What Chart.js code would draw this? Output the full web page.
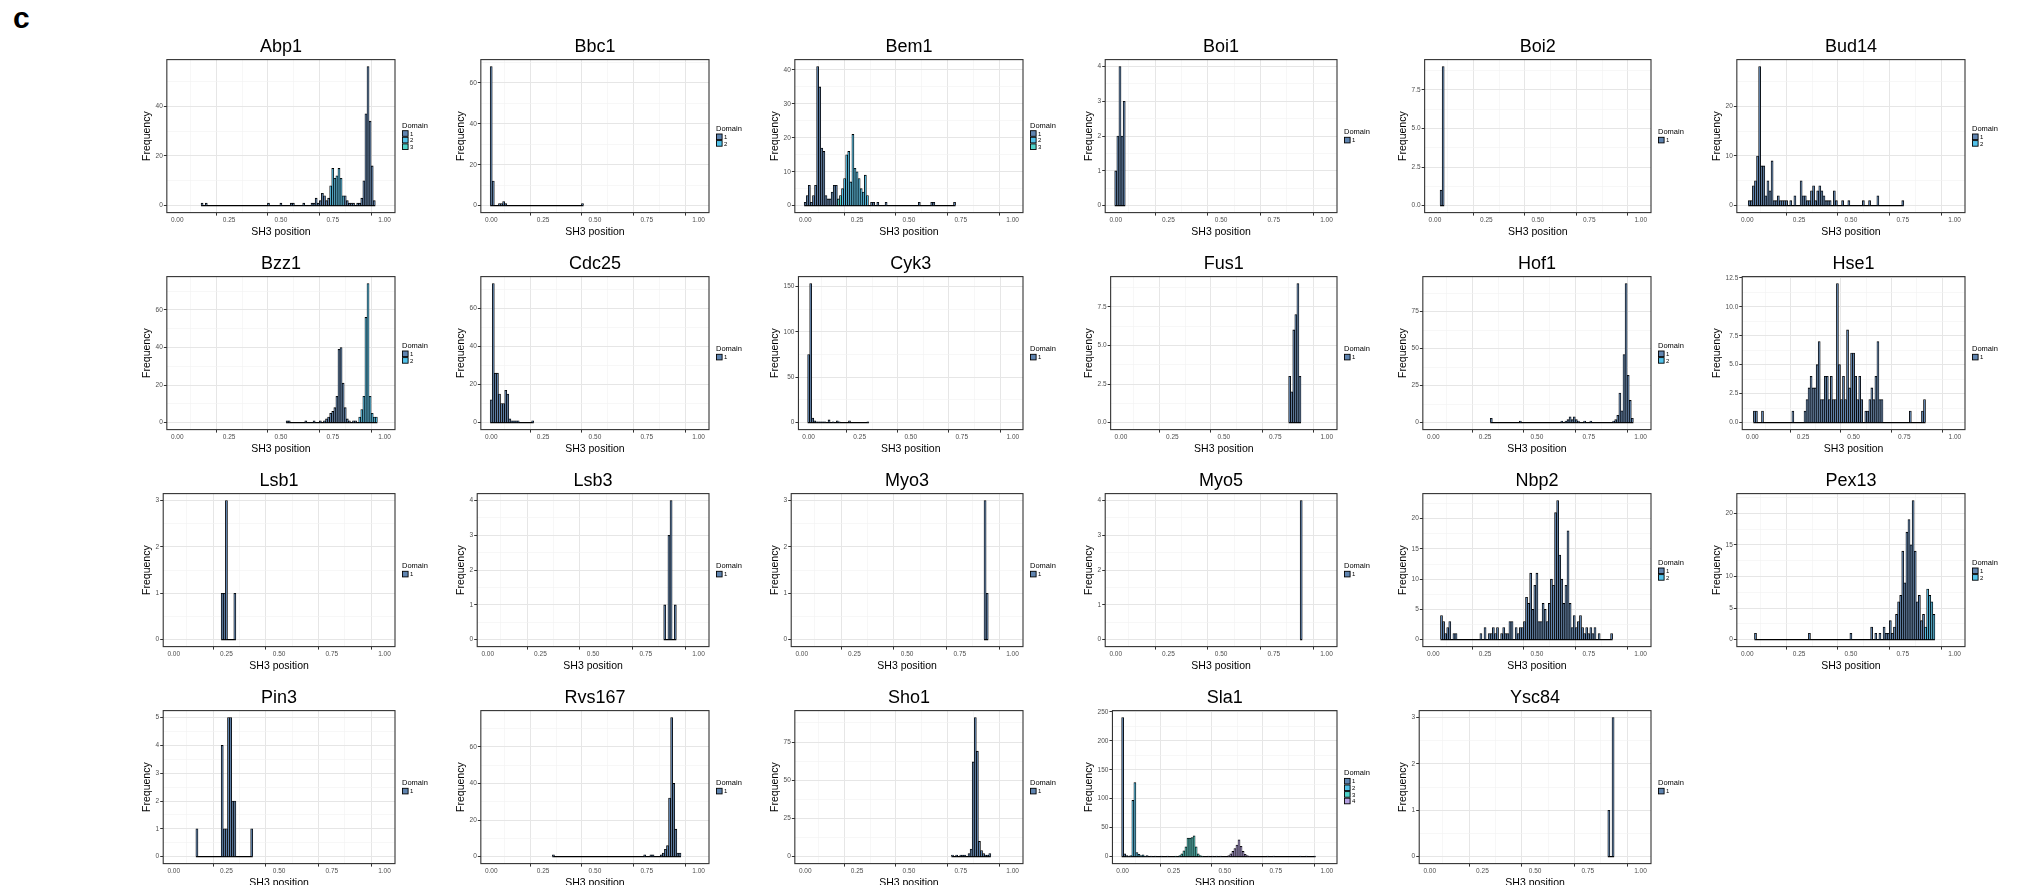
<!DOCTYPE html>
<html>
<head>
<meta charset="utf-8">
<script src="https://cdn.jsdelivr.net/npm/chart.js@4.4.1/dist/chart.umd.min.js"></script>
<style>
  body { margin: 0; background: #fff; width: 2017px; height: 885px; overflow: hidden; position: relative; }
  canvas { position: absolute; }
  #tag { position: absolute; left: 13px; top: 3px; font: bold 30px/30px "Liberation Sans", Arial, sans-serif; color: #000; }
</style>
</head>
<body>
<div id="tag">c</div>
<script>
const FONT = '"Liberation Sans", Arial, Helvetica, sans-serif';
Chart.defaults.font.family = FONT;

// histogram settings
const BIN_WIDTH = 0.01;
const xBreaks = [0, 0.25, 0.5, 0.75, 1];
const domainColours = ['#5f84b0', '#52c2ea', '#4fd2c9', '#b4a0e0'];

// panel list (row by row)
const panelNames = ['Abp1', 'Bbc1', 'Bem1', 'Boi1', 'Boi2', 'Bud14',
                    'Bzz1', 'Cdc25', 'Cyk3', 'Fus1', 'Hof1', 'Hse1',
                    'Lsb1', 'Lsb3', 'Myo3', 'Myo5', 'Nbp2', 'Pex13',
                    'Pin3', 'Rvs167', 'Sho1', 'Sla1', 'Ysc84'];
const domainCounts = [3, 2, 3, 1, 1, 2, 2, 1, 1, 1, 2, 1, 1, 1, 1, 1, 2, 2, 1, 1, 1, 4, 1];
const yBreakSteps = [20, 20, 10, 1, 2.5, 10, 20, 20, 50, 2.5, 25, 2.5, 1, 1, 1, 1, 5, 5, 1, 20, 25, 50, 1];

// bins = bin centres with non-zero counts, freq = counts
const abp1Bins = [0.12, 0.14, 0.44, 0.50, 0.55, 0.56, 0.61, 0.65, 0.66, 0.67, 0.68, 0.69, 0.70, 0.71, 0.72, 0.73, 0.74, 0.75, 0.76, 0.77, 0.78, 0.79, 0.80, 0.81, 0.82, 0.83, 0.84, 0.85, 0.87, 0.88, 0.89, 0.90, 0.91, 0.92, 0.93, 0.94, 0.95];
const abp1Freq = [1, 1, 1, 1, 1, 1, 1, 1, 1, 3, 1, 2, 5, 4, 2, 3, 8, 15, 11, 12, 15, 11, 4, 4, 2, 1, 1, 1, 1, 1, 3, 10, 37, 56, 34, 16, 2];
const abp1Dom = [[0.74, 0.80, 2]];

const bbc1Bins = [0.00, 0.01, 0.04, 0.05, 0.06, 0.07, 0.44];
const bbc1Freq = [68, 12, 1, 1, 2, 1, 1];

const bem1Bins = [0.00, 0.01, 0.02, 0.03, 0.04, 0.05, 0.06, 0.07, 0.08, 0.09, 0.10, 0.11, 0.12, 0.13, 0.14, 0.15, 0.16, 0.17, 0.18, 0.19, 0.20, 0.21, 0.22, 0.23, 0.24, 0.25, 0.26, 0.27, 0.28, 0.29, 0.30, 0.32, 0.33, 0.35, 0.39, 0.55, 0.61, 0.62, 0.72];
const bem1Freq = [1, 3, 6, 1, 3, 6, 41, 35, 17, 16, 3, 2, 2, 4, 6, 6, 2, 3, 5, 8, 15, 16, 7, 21, 11, 10, 8, 5, 4, 9, 3, 1, 1, 1, 1, 1, 1, 1, 1];
const bem1Dom = [[0.16, 0.17, 3], [0.18, 0.30, 2]];

const boi1Bins = [0.00, 0.01, 0.02, 0.03, 0.04];
const boi1Freq = [1, 2, 4, 2, 3];

const boi2Bins = [0.03, 0.04];
const boi2Freq = [1, 9];

const bud14Bins = [0.01, 0.02, 0.03, 0.04, 0.05, 0.06, 0.07, 0.08, 0.09, 0.10, 0.11, 0.12, 0.13, 0.14, 0.15, 0.16, 0.17, 0.18, 0.19, 0.21, 0.23, 0.26, 0.27, 0.28, 0.29, 0.30, 0.31, 0.32, 0.33, 0.34, 0.35, 0.36, 0.37, 0.38, 0.39, 0.40, 0.42, 0.43, 0.46, 0.49, 0.56, 0.59, 0.63, 0.75];
const bud14Freq = [1, 1, 4, 5, 10, 28, 8, 8, 2, 5, 3, 9, 1, 1, 2, 1, 1, 1, 1, 1, 2, 5, 2, 2, 1, 1, 3, 4, 1, 3, 4, 3, 2, 1, 1, 1, 3, 1, 1, 1, 1, 1, 2, 1];

const bzz1Bins = [0.53, 0.54, 0.62, 0.66, 0.69, 0.71, 0.72, 0.73, 0.74, 0.75, 0.76, 0.77, 0.78, 0.79, 0.80, 0.81, 0.82, 0.83, 0.85, 0.86, 0.88, 0.89, 0.90, 0.91, 0.92, 0.93, 0.94, 0.95, 0.96];
const bzz1Freq = [1, 1, 1, 1, 1, 1, 2, 3, 5, 6, 8, 14, 39, 40, 21, 8, 2, 1, 1, 1, 3, 7, 14, 56, 74, 14, 5, 3, 3];
const bzz1Dom = [[0.88, 0.96, 2]];

const cdc25Bins = [0.00, 0.01, 0.02, 0.03, 0.04, 0.05, 0.06, 0.07, 0.08, 0.09, 0.10, 0.11, 0.12, 0.13, 0.20];
const cdc25Freq = [12, 73, 26, 26, 15, 10, 10, 17, 15, 2, 1, 1, 1, 1, 1];

const cyk3Bins = [0.00, 0.01, 0.02, 0.03, 0.04, 0.05, 0.06, 0.07, 0.08, 0.10, 0.12, 0.14, 0.15, 0.20, 0.29];
const cyk3Freq = [75, 153, 5, 2, 1, 1, 1, 1, 1, 3, 1, 2, 1, 2, 1];

const fus1Bins = [0.82, 0.83, 0.84, 0.85, 0.86, 0.87];
const fus1Freq = [3, 2, 6, 7, 9, 3];

const hof1Bins = [0.28, 0.42, 0.62, 0.64, 0.65, 0.66, 0.67, 0.68, 0.69, 0.70, 0.73, 0.76, 0.87, 0.88, 0.89, 0.90, 0.91, 0.92, 0.93, 0.94, 0.95, 0.96];
const hof1Freq = [3, 1, 1, 1, 2, 4, 2, 4, 2, 1, 1, 1, 1, 2, 5, 20, 8, 46, 94, 32, 15, 3];

const hse1Bins = [0.01, 0.02, 0.05, 0.20, 0.26, 0.27, 0.28, 0.29, 0.30, 0.31, 0.32, 0.33, 0.34, 0.35, 0.36, 0.37, 0.38, 0.39, 0.40, 0.41, 0.42, 0.43, 0.44, 0.45, 0.46, 0.47, 0.48, 0.49, 0.50, 0.51, 0.52, 0.53, 0.54, 0.56, 0.57, 0.58, 0.59, 0.60, 0.61, 0.62, 0.63, 0.64, 0.78, 0.84, 0.85];
const hse1Freq = [1, 1, 1, 1, 1, 2, 3, 4, 3, 3, 5, 7, 2, 2, 4, 4, 2, 4, 2, 2, 12, 5, 2, 4, 2, 8, 3, 6, 6, 4, 2, 4, 2, 1, 1, 2, 3, 2, 4, 7, 2, 2, 1, 1, 2];

const lsb1Bins = [0.23, 0.24, 0.25, 0.29];
const lsb1Freq = [1, 1, 3, 1];

const lsb3Bins = [0.84, 0.86, 0.87, 0.89];
const lsb3Freq = [1, 3, 4, 1];

const myo3Bins = [0.87, 0.88];
const myo3Freq = [3, 1];

const myo5Bins = [0.88];
const myo5Freq = [4];

const nbp2Bins = [0.04, 0.05, 0.06, 0.07, 0.08, 0.10, 0.11, 0.23, 0.25, 0.27, 0.28, 0.29, 0.30, 0.31, 0.33, 0.34, 0.35, 0.36, 0.37, 0.38, 0.40, 0.41, 0.42, 0.43, 0.44, 0.45, 0.46, 0.47, 0.48, 0.49, 0.50, 0.51, 0.52, 0.53, 0.54, 0.55, 0.56, 0.57, 0.58, 0.59, 0.60, 0.61, 0.62, 0.63, 0.64, 0.65, 0.66, 0.67, 0.68, 0.69, 0.70, 0.71, 0.72, 0.73, 0.74, 0.75, 0.76, 0.77, 0.78, 0.80, 0.86];
const nbp2Freq = [4, 3, 1, 2, 3, 1, 1, 1, 2, 1, 1, 2, 1, 2, 1, 2, 1, 1, 3, 3, 2, 1, 2, 2, 3, 7, 6, 11, 5, 9, 11, 3, 3, 6, 5, 3, 6, 10, 9, 21, 23, 14, 10, 6, 9, 18, 6, 2, 4, 2, 3, 4, 2, 1, 2, 1, 2, 1, 2, 1, 1];

const pex13Bins = [0.04, 0.30, 0.50, 0.60, 0.62, 0.64, 0.66, 0.67, 0.68, 0.69, 0.70, 0.71, 0.72, 0.73, 0.74, 0.75, 0.76, 0.77, 0.78, 0.79, 0.80, 0.81, 0.82, 0.83, 0.84, 0.85, 0.86, 0.87, 0.88, 0.89, 0.90];
const pex13Freq = [1, 1, 1, 2, 1, 1, 2, 1, 1, 3, 1, 2, 4, 6, 7, 14, 9, 17, 19, 15, 22, 14, 6, 7, 3, 4, 2, 8, 7, 6, 4];
const pex13Dom = [[0.86, 0.90, 2]];

const pin3Bins = [0.11, 0.23, 0.24, 0.25, 0.26, 0.27, 0.28, 0.29, 0.37];
const pin3Freq = [1, 4, 1, 1, 5, 5, 2, 2, 1];

const rvs167Bins = [0.30, 0.74, 0.77, 0.78, 0.82, 0.83, 0.84, 0.85, 0.86, 0.87, 0.88, 0.89, 0.90, 0.91];
const rvs167Freq = [1, 1, 1, 1, 1, 2, 4, 6, 32, 76, 40, 15, 2, 2];

const sho1Bins = [0.71, 0.73, 0.75, 0.76, 0.77, 0.79, 0.80, 0.81, 0.82, 0.83, 0.84, 0.85, 0.86, 0.87, 0.88, 0.89];
const sho1Freq = [1, 1, 1, 1, 1, 2, 5, 62, 91, 69, 10, 4, 2, 1, 1, 2];

const sla1Bins = [0.00, 0.01, 0.02, 0.03, 0.04, 0.05, 0.06, 0.07, 0.08, 0.09, 0.10, 0.11, 0.12, 0.14, 0.16, 0.19, 0.22, 0.26, 0.28, 0.29, 0.30, 0.31, 0.32, 0.33, 0.34, 0.35, 0.36, 0.37, 0.38, 0.39, 0.42, 0.44, 0.46, 0.48, 0.52, 0.53, 0.54, 0.55, 0.56, 0.57, 0.58, 0.59, 0.60, 0.61, 0.62, 0.71, 0.74, 0.87, 0.90, 0.94];
const sla1Freq = [240, 5, 2, 1, 2, 97, 128, 7, 4, 2, 3, 1, 2, 1, 1, 1, 1, 1, 2, 5, 10, 17, 32, 32, 33, 36, 17, 5, 2, 1, 1, 1, 1, 1, 2, 5, 9, 14, 20, 29, 18, 9, 4, 2, 1, 1, 1, 1, 1, 1];
const sla1Dom = [[0.04, 0.10, 2], [0.26, 0.40, 3], [0.50, 0.63, 4]];

const ysc84Bins = [0.85, 0.87];
const ysc84Freq = [1, 3];

const panelBins = [abp1Bins, bbc1Bins, bem1Bins, boi1Bins, boi2Bins, bud14Bins, bzz1Bins, cdc25Bins, cyk3Bins, fus1Bins, hof1Bins, hse1Bins,
                   lsb1Bins, lsb3Bins, myo3Bins, myo5Bins, nbp2Bins, pex13Bins, pin3Bins, rvs167Bins, sho1Bins, sla1Bins, ysc84Bins];
const panelFreq = [abp1Freq, bbc1Freq, bem1Freq, boi1Freq, boi2Freq, bud14Freq, bzz1Freq, cdc25Freq, cyk3Freq, fus1Freq, hof1Freq, hse1Freq,
                   lsb1Freq, lsb3Freq, myo3Freq, myo5Freq, nbp2Freq, pex13Freq, pin3Freq, rvs167Freq, sho1Freq, sla1Freq, ysc84Freq];
const panelDom = {Abp1: abp1Dom, Bem1: bem1Dom, Bzz1: bzz1Dom, Pex13: pex13Dom, Sla1: sla1Dom};

// page layout
const GRID_LEFT = 140, GRID_TOP = 30, CELL_W = 314, CELL_H = 217;

function domainOf(name, x) {
  const ranges = panelDom[name] || [];
  for (const [lo, hi, d] of ranges) {
    if (x >= lo - 1e-9 && x <= hi + 1e-9) return d;
  }
  return 1;
}

function isMajor(v, step) {
  return Math.abs(v / step - Math.round(v / step)) < 1e-6;
}

// major + minor (half step) breaks inside [0, max]
function breaksFor(step, max) {
  const out = [];
  for (let k = 0; k * step / 2 <= max + 1e-9; k++) out.push({ value: +(k * step / 2).toFixed(6) });
  return out;
}

// ggplot-like panel frame
const panelFrame = {
  id: 'panelFrame',
  afterDraw(chart) {
    const { ctx, chartArea: a } = chart;
    ctx.save();
    ctx.strokeStyle = '#333333';
    ctx.lineWidth = 1.1;
    ctx.strokeRect(a.left, a.top, a.right - a.left, a.bottom - a.top);
    ctx.restore();
  }
};

// "Domain" key to the right of the panel, centred on it
const domainLegend = {
  id: 'domainLegend',
  afterDraw(chart, args, opts) {
    const { ctx, chartArea: a } = chart;
    const n = opts.count;
    const key = 6.6;
    const blockH = 9 + key * n;
    const x = a.right + 7;
    let y = (a.top + a.bottom) / 2 - blockH / 2;
    ctx.save();
    ctx.fillStyle = '#000000';
    ctx.font = '7.5px ' + FONT;
    ctx.textBaseline = 'top';
    ctx.textAlign = 'left';
    ctx.fillText('Domain', x, y);
    y += 9;
    ctx.font = '6px ' + FONT;
    ctx.textBaseline = 'middle';
    for (let d = 0; d < n; d++) {
      ctx.fillStyle = domainColours[d];
      ctx.fillRect(x + 0.5, y + d * key, key - 1, key - 1);
      ctx.strokeStyle = '#000000';
      ctx.lineWidth = 0.9;
      ctx.strokeRect(x + 0.5, y + d * key, key - 1, key - 1);
      ctx.fillStyle = '#000000';
      ctx.fillText(String(d + 1), x + key + 1.5, y + d * key + key / 2);
    }
    ctx.restore();
  }
};

function gridStyle(step) {
  const major = ctx => !ctx.tick || isMajor(ctx.tick.value, step);
  return {
    color: ctx => major(ctx) ? '#e6e6e6' : '#f1f1f1',
    lineWidth: ctx => major(ctx) ? 1 : 0.6,
    tickColor: ctx => major(ctx) ? '#333333' : 'rgba(0,0,0,0)',
    tickLength: 3,
    drawTicks: true
  };
}

panelNames.forEach((name, i) => {
  const row = Math.floor(i / 6), col = i % 6;
  const bins = panelBins[i], freq = panelFreq[i];
  const step = yBreakSteps[i];
  const yTop = Math.max(...freq);
  const yDigits = isMajor(step, 1) ? 0 : 1;

  const canvas = document.createElement('canvas');
  canvas.width = CELL_W;
  canvas.height = 219;
  canvas.style.left = Math.round(GRID_LEFT + col * CELL_W) + 'px';
  canvas.style.top = Math.round(GRID_TOP + row * CELL_H) + 'px';
  document.body.appendChild(canvas);

  const chart = new Chart(canvas, {
    type: 'bar',
    data: {
      datasets: [
        {
          type: 'bar',
          data: bins.map((b, k) => ({ x: b, y: freq[k] })),
          backgroundColor: bins.map(b => domainColours[domainOf(name, b) - 1]),
          borderColor: '#000000',
          borderWidth: 0.85,
          order: 1
        },
        {
          // outline of the empty bins between first and last bin
          type: 'line',
          data: [{ x: bins[0] - BIN_WIDTH / 2, y: 0 }, { x: bins[bins.length - 1] + BIN_WIDTH / 2, y: 0 }],
          borderColor: '#000000',
          borderWidth: 1.2,
          pointRadius: 0,
          fill: false,
          order: 2
        }
      ]
    },
    options: {
      responsive: false,
      animation: false,
      devicePixelRatio: 1,
      events: [],
      layout: { padding: { left: 1, right: 59, top: 0, bottom: 11 } },
      scales: {
        x: {
          type: 'linear',
          min: -0.05,
          max: 1.05,
          bounds: 'data',
          offset: false,
          afterBuildTicks: s => { s.ticks = breaksFor(0.25, 1); },
          ticks: {
            autoSkip: false,
            maxRotation: 0,
            padding: 1,
            color: '#4d4d4d',
            font: { size: 6.5 },
            callback: v => xBreaks.some(b => Math.abs(b - v) < 1e-6) ? v.toFixed(2) : ''
          },
          grid: gridStyle(0.25),
          border: { display: false },
          title: { display: true, text: 'SH3 position', color: '#000000', font: { size: 10.5, lineHeight: 1.2 }, padding: { top: 0, bottom: 0 } }
        },
        y: {
          type: 'linear',
          min: -0.05 * yTop,
          max: 1.05 * yTop,
          bounds: 'data',
          afterBuildTicks: s => { s.ticks = breaksFor(step, s.max); },
          ticks: {
            autoSkip: false,
            padding: 1,
            color: '#4d4d4d',
            font: { size: 6.5 },
            callback: v => isMajor(v, step) ? v.toFixed(yDigits) : ''
          },
          grid: gridStyle(step),
          border: { display: false },
          title: { display: true, text: 'Frequency', color: '#000000', font: { size: 10.5, lineHeight: 1.2 }, padding: { top: 0, bottom: 1 } }
        }
      },
      plugins: {
        tooltip: { enabled: false },
        legend: { display: false },
        title: {
          display: true,
          fullSize: false,
          text: name,
          color: '#000000',
          font: { size: 18, weight: 'normal', lineHeight: 1.2 },
          padding: { top: 6, bottom: 2 }
        },
        domainLegend: { count: domainCounts[i] }
      }
    },
    plugins: [panelFrame, domainLegend]
  });

  // one bin wide bars, measured on the library's own x scale
  const xs = chart.scales.x;
  chart.data.datasets[0].barThickness = xs.getPixelForValue(BIN_WIDTH) - xs.getPixelForValue(0);
  chart.update();
});
</script>
</body>
</html>
